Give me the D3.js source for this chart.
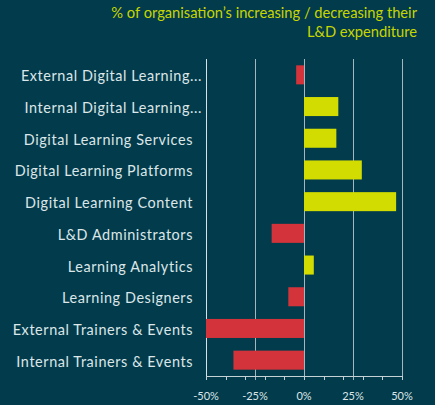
<!DOCTYPE html>
<html>
<head>
<meta charset="utf-8">
<script src="https://cdn.jsdelivr.net/npm/d3@7"></script>
<style>
  html, body { margin: 0; padding: 0; background: #023c4c; }
  svg { display: block; }
</style>
</head>
<body>
<div id="chart"></div>
<script>
// Categories top to bottom and net % of organisations increasing / decreasing spend
const categories = [
  'External Digital Learning...',
  'Internal Digital Learning...',
  'Digital Learning Services',
  'Digital Learning Platforms',
  'Digital Learning Content',
  'L&D Administrators',
  'Learning Analytics',
  'Learning Designers',
  'External Trainers & Events',
  'Internal Trainers & Events',
];
const values = [-4, 17.5, 16.5, 29.5, 47, -16.5, 5, -8, -50, -36];
const tickValues = [-50, -25, 0, 25, 50];
const minorTicks = [-50, -40, -30, -20, -10, 0, 10, 20, 30, 40, 50];
const titleLines = ['% of organisation\u2019s increasing / decreasing their', 'L&D expenditure'];

const W = 435, H = 405;
const margin = { top: 59, right: 33, bottom: 29, left: 206 };
const innerW = W - margin.left - margin.right;
const innerH = H - margin.top - margin.bottom;

const BG = '#023c4c';
const RED = '#d3343b';
const YELLOW = '#d2dc00';
const TEXT = '#dde6e8';

const svg = d3.select('#chart').append('svg')
  .attr('width', W).attr('height', H)
  .style('background', BG);

// Title (top right)
svg.append('g').selectAll('text')
  .data(titleLines)
  .join('text')
  .attr('x', 417)
  .attr('y', (d, i) => 18 + i * 19)
  .attr('text-anchor', 'end')
  .attr('font-family', 'Lato, sans-serif')
  .attr('font-size', 14.7)
  .attr('fill', '#c8d500')
  .text(d => d);

const g = svg.append('g').attr('transform', `translate(${margin.left},${margin.top})`);

const x = d3.scaleLinear().domain([-50, 50]).range([0, innerW]);
const y = d3.scaleBand().domain(categories).range([0, innerH]).paddingInner(0.4).paddingOuter(0.2);

// Gridlines
g.append('g').selectAll('line')
  .data(tickValues)
  .join('line')
  .attr('x1', d => Math.round(x(d)) + 0.5).attr('x2', d => Math.round(x(d)) + 0.5)
  .attr('y1', 0).attr('y2', innerH + 4)
  .attr('stroke', d => d === -50 ? '#d6e2e5' : '#a3b8be')
  .attr('stroke-width', 1);

// Bars
g.append('g').selectAll('rect')
  .data(categories)
  .join('rect')
  .attr('x', (d, i) => x(Math.min(0, values[i])))
  .attr('y', d => y(d))
  .attr('width', (d, i) => Math.abs(x(values[i]) - x(0)))
  .attr('height', y.bandwidth())
  .attr('fill', (d, i) => values[i] < 0 ? RED : YELLOW);

// Bottom axis line + minor ticks
g.append('line')
  .attr('x1', x(-50)).attr('x2', x(50))
  .attr('y1', innerH + 0.5).attr('y2', innerH + 0.5)
  .attr('stroke', '#c4d2d6');
g.append('g').selectAll('line')
  .data(minorTicks)
  .join('line')
  .attr('x1', d => Math.round(x(d)) + 0.5).attr('x2', d => Math.round(x(d)) + 0.5)
  .attr('y1', innerH).attr('y2', innerH + 4)
  .attr('stroke', '#c4d2d6');

// Tick labels
g.append('g').selectAll('text')
  .data(tickValues)
  .join('text')
  .attr('x', d => x(d))
  .attr('y', innerH + 24)
  .attr('text-anchor', 'middle')
  .attr('font-family', 'Lato, sans-serif')
  .attr('font-size', 11)
  .attr('fill', TEXT)
  .text(d => `${d}%`);

// Category labels
g.append('g').selectAll('text')
  .data(categories)
  .join('text')
  .attr('x', d => d.endsWith('...') ? -4 : -13)
  .attr('y', d => y(d) + y.bandwidth() / 2 + 1)
  .attr('dominant-baseline', 'central')
  .attr('text-anchor', 'end')
  .attr('font-family', 'Lato, sans-serif')
  .attr('font-size', 14.4)
  .attr('letter-spacing', 0.6)
  .attr('fill', TEXT)
  .text(d => d);
</script>
</body>
</html>
